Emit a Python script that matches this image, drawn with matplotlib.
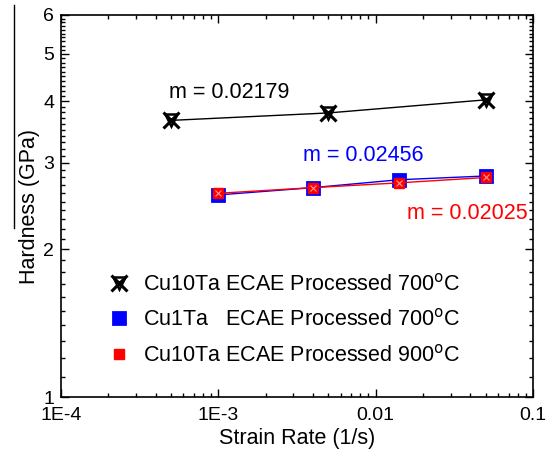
import numpy as np
import matplotlib.pyplot as plt
from matplotlib.ticker import FixedLocator, FixedFormatter, NullFormatter
from matplotlib.lines import Line2D

plt.rcParams['font.family'] = ['Liberation Sans', 'DejaVu Sans']

# Cu10Ta ECAE processed at 700 C
rate_10ta_700 = [5e-4, 5e-3, 0.05]
hard_10ta_700 = [3.66, 3.79, 4.03]
# Cu1Ta ECAE processed at 700 C
rate_1ta_700 = [1e-3, 4e-3, 0.014, 0.05]
hard_1ta_700 = [2.58, 2.67, 2.77, 2.82]
# Cu10Ta ECAE processed at 900 C
rate_10ta_900 = [1e-3, 4e-3, 0.014, 0.05]
hard_10ta_900 = [2.60, 2.67, 2.73, 2.80]

labels = ['Cu10Ta ECAE Processed 700$^{\\rm o}$C',
          'Cu1Ta   ECAE Processed 700$^{\\rm o}$C',
          'Cu10Ta ECAE Processed 900$^{\\rm o}$C']

fig = plt.figure(figsize=(5.53, 4.53), dpi=100)
ax = fig.add_axes([0.1103, 0.1236, 0.8535, 0.8433])
ax.set_xscale('log')
ax.set_yscale('log')

ax.plot(rate_10ta_700, hard_10ta_700, color='black', lw=1)
ax.plot(rate_10ta_700, hard_10ta_700, ls='none', marker='x', ms=12, mew=2.2, color='black')
ax.plot(rate_10ta_700, hard_10ta_700, ls='none', marker='v', ms=9, mew=1.8, mfc='none', mec='black')

ax.plot(rate_1ta_700, hard_1ta_700, color='blue', lw=1)
ax.plot(rate_1ta_700, hard_1ta_700, ls='none', marker='s', ms=8, mew=2, mfc='blue', mec='blue')
ax.plot(rate_10ta_900, hard_10ta_900, color='red', lw=1)
ax.plot(rate_10ta_900, hard_10ta_900, ls='none', marker='s', ms=7, mew=1, mfc='red', mec='red')
ax.plot(rate_10ta_900, hard_10ta_900, ls='none', marker='x', ms=4, mew=0.8, color='#ff9999')

ax.text(1.17e-3, 4.18, 'm = 0.02179', fontsize=15.5, color='black', ha='center', va='center')
ax.text(8.4e-3, 3.11, 'm = 0.02456', fontsize=15.5, color='blue', ha='center', va='center')
ax.text(0.038, 2.37, 'm = 0.02025', fontsize=15.5, color='red', ha='center', va='center')

ax.set_xlim(1e-4, 0.1)
ax.set_ylim(1, 6)

ax.xaxis.set_major_locator(FixedLocator([1e-4, 1e-3, 0.01, 0.1]))
ax.xaxis.set_major_formatter(FixedFormatter(['1E-4', '1E-3', '0.01', '0.1']))
xminor = [m * 10.0 ** e for e in (-4, -3, -2) for m in range(2, 10)]
ax.xaxis.set_minor_locator(FixedLocator(xminor))
ax.xaxis.set_minor_formatter(NullFormatter())

ax.yaxis.set_major_locator(FixedLocator([1, 2, 3, 4, 5, 6]))
ax.yaxis.set_major_formatter(FixedFormatter(['1', '2', '3', '4', '5', '6']))
yminor = [v for v in np.arange(1.1, 6.0, 0.1) if abs(v - round(v)) > 0.01]
ax.yaxis.set_minor_locator(FixedLocator(yminor))
ax.yaxis.set_minor_formatter(NullFormatter())

ax.tick_params(which='both', direction='in', top=True, right=True, labelsize=14, width=1)
ax.tick_params(which='major', length=6)
ax.tick_params(which='minor', length=3)
ax.tick_params(axis='x', pad=7)
ax.tick_params(axis='y', pad=5)
for s in ax.spines.values():
    s.set_linewidth(1.2)

ax.set_xlabel('Strain Rate (1/s)', fontsize=15.5, labelpad=3)
ax.set_ylabel('Hardness (GPa)', fontsize=15.5, labelpad=2)

h1 = (Line2D([], [], ls='none', marker='x', ms=12, mew=2.2, color='black'),
      Line2D([], [], ls='none', marker='v', ms=9, mew=1.8, mfc='none', mec='black'))
h2 = Line2D([], [], ls='none', marker='s', ms=8, mew=2, mfc='blue', mec='blue')
h3 = Line2D([], [], ls='none', marker='s', ms=7, mew=1, mfc='red', mec='red')
ax.legend([h1, h2, h3], labels, loc='lower left', bbox_to_anchor=(0.06, 0.03),
          frameon=False, fontsize=15.5, handlelength=1.0, handletextpad=0.6,
          labelspacing=0.63)

fig.add_artist(Line2D([14 / 553, 14 / 553], [1 - 5 / 453, 1 - 228 / 453],
                      color='black', lw=1))

fig.savefig('out.png', dpi=100)
